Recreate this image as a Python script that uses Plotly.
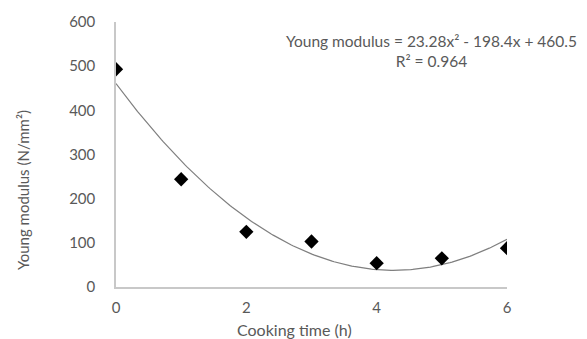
import numpy as np
import plotly.graph_objects as go

# Cooking time (h) and measured Young modulus (N/mm²)
cooking_time = [0, 1, 2, 3, 4, 5, 6]
young_modulus = [493, 244, 125, 103, 54, 65, 88]

# Quadratic trendline coefficients (highest power first) and fit quality
trend_coeffs = [23.28, -198.4, 460.5]
r_squared = 0.964

x_ticks = [0, 2, 4, 6]
y_ticks = [0, 100, 200, 300, 400, 500, 600]

font_family = "Lato, 'Open Sans', sans-serif"
text_color = "#595959"
axis_color = "#c8c8c8"

W, H = 587, 339
left, right, top, bottom = 116, 80, 22, 52
pw, ph = W - left - right, H - top - bottom


def px_to_paper(px, py):
    return (px - left) / pw, 1 - (py - top) / ph


xs = np.linspace(min(cooking_time), max(cooking_time), 200)
ys = np.polyval(trend_coeffs, xs)

fig = go.Figure()
fig.add_trace(go.Scatter(
    x=xs, y=ys, mode="lines",
    line=dict(color="#7f7f7f", width=1.2),
    hoverinfo="skip", showlegend=False,
))
fig.add_trace(go.Scatter(
    x=cooking_time, y=young_modulus, mode="markers",
    marker=dict(symbol="diamond", size=11, color="black"),
    showlegend=False,
))

eq_text = "Young modulus = {:.2f}x² - {:.1f}x + {:.1f}".format(
    trend_coeffs[0], -trend_coeffs[1], trend_coeffs[2])
r2_text = "R² = {:.3f}".format(r_squared)


def label(px, py, text, size, angle=0):
    ax, ay = px_to_paper(px, py)
    fig.add_annotation(x=ax, y=ay, xref="paper", yref="paper", text=text,
                       showarrow=False, xanchor="center", yanchor="middle",
                       textangle=angle, align="center",
                       font=dict(size=size, color=text_color, family=font_family))


# Trendline equation and R² as one centred two-line label
label(431, 51, eq_text + "<br>" + r2_text, 15.5)
label(294, 329, "Cooking time (h)", 16)
label(23, 190, "Young modulus (N/mm²)", 15, angle=-90)

fig.update_layout(
    width=W, height=H,
    margin=dict(l=left, r=right, t=top, b=bottom),
    plot_bgcolor="white", paper_bgcolor="white",
    font=dict(family=font_family, size=15, color=text_color),
)
fig.update_xaxes(
    range=[0, 6], tickvals=x_ticks, showgrid=False, zeroline=False,
    showline=True, linecolor=axis_color, linewidth=1.5,
    ticks="", ticklabelstandoff=6,
)
fig.update_yaxes(
    range=[0, 600], tickvals=y_ticks, showgrid=False, zeroline=False,
    showline=True, linecolor=axis_color, linewidth=1.5,
    ticks="", ticklabelstandoff=16,
)

fig.write_html("out.html")
